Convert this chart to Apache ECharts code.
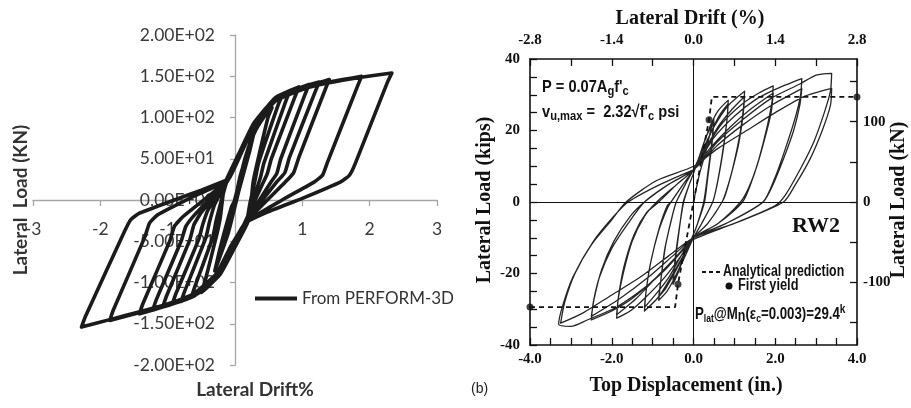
<!DOCTYPE html>
<html>
<head>
<meta charset="utf-8">
<script src="https://cdn.jsdelivr.net/npm/echarts@6/dist/echarts.min.js"></script>
<style>
  html, body { margin: 0; padding: 0; background: #fff; }
  #chart { width: 911px; height: 408px; }
</style>
</head>
<body>
<div id="chart"></div>
<script>
// ---------- Left panel: PERFORM-3D hysteresis, drift (%) vs load (kN) ----------
const leftDriftTicks = ['-3', '-2', '-1', '', '1', '2', '3'];
const leftLoadTicks = ['-2.00E+02', '-1.50E+02', '-1.00E+02', '-5.00E+01', '0.00E+00',
                       '5.00E+01', '1.00E+02', '1.50E+02', '2.00E+02'];

// early, nearly elastic cycles
const leftCycle0 = [[0,0],[0.1,35],[0.2,64],[0.12,38],[0,2],[-0.1,-33],[-0.2,-62],[-0.12,-36],[0,0],
  [0.14,48],[0.3,88],[0.22,60],[0.06,12],[-0.1,-40],[-0.3,-86],[-0.22,-58],[-0.05,-8],[0,0]];
const leftCycle1 = [[0.08,30],[0.28,80],[0.45,103],[0.55,112],[0.49,100],[0.33,45],[0.27,22],[0.2,-25],
  [-0.02,-60],[-0.22,-90],[-0.4,-105],[-0.5,-112],[-0.45,-100],[-0.28,-45],[-0.22,-22],[-0.15,20]];
const leftCycle2 = [[0.05,55],[0.27,92],[0.5,115],[0.7,127],[0.64,115],[0.35,45],[0.3,25],[0.22,-5],[0.17,-27],
  [-0.04,-58],[-0.24,-90],[-0.45,-108],[-0.65,-118],[-0.6,-106],[-0.33,-45],[-0.28,-25],[-0.2,0],[-0.12,23]];
const leftCycle3 = [[0.08,58],[0.3,93],[0.55,120],[0.82,133],[0.76,121],[0.43,45],[0.38,28],[0.3,8],[0.15,-29],
  [-0.05,-58],[-0.25,-90],[-0.5,-110],[-0.8,-123],[-0.75,-111],[-0.43,-45],[-0.38,-27],[-0.3,-5],[-0.1,25]];
const leftCycle4 = [[0.11,61],[0.32,94],[0.6,124],[0.95,137],[0.89,125],[0.54,50],[0.48,32],[0.4,18],[0.13,-30],
  [-0.07,-57],[-0.27,-89],[-0.55,-113],[-0.93,-126],[-0.88,-114],[-0.54,-48],[-0.48,-30],[-0.4,-12],[-0.08,27]];
const leftCycle5 = [[0.12,62],[0.33,95],[0.62,125],[0.9,134],[1.1,140],[1.04,128],[0.68,50],[0.62,32],[0.52,20],[0.16,-27],
  [-0.04,-57],[-0.24,-90],[-0.6,-115],[-0.9,-124],[-1.07,-129],[-1.02,-117],[-0.67,-48],[-0.61,-30],[-0.5,-15],[-0.11,24]];
const leftCycle6 = [[0.1,60],[0.3,93],[0.6,124],[1.0,137],[1.25,143],[1.19,131],[0.81,52],[0.74,33],[0.62,22],[0.14,-29],
  [-0.06,-58],[-0.26,-90],[-0.6,-116],[-1.0,-127],[-1.22,-133],[-1.17,-121],[-0.8,-50],[-0.73,-32],[-0.6,-18],[-0.09,26]];
const leftCycle7 = [[0.1,58],[0.3,92],[0.6,123],[1.0,136],[1.4,146],[1.34,134],[0.95,52],[0.87,33],[0.75,22],[0.15,-28],
  [-0.05,-58],[-0.25,-89],[-0.6,-116],[-1.0,-128],[-1.42,-138],[-1.37,-126],[-0.97,-50],[-0.9,-32],[-0.77,-20],[-0.1,25]];
const leftCycle8 = [[0.09,57],[0.29,90],[0.6,121],[1.0,135],[1.4,143],[1.88,150],[1.82,138],[1.37,45],[1.3,30],[1.18,22],[0.7,0],[0.16,-27],
  [-0.04,-56],[-0.24,-88],[-0.6,-114],[-1.0,-127],[-1.4,-136],[-1.86,-146],[-1.81,-134],[-1.34,-45],[-1.27,-28],[-1.15,-18],[-0.6,5],[-0.11,24]];
const leftCycle9 = [[0.08,56],[0.29,89],[0.6,120],[1.0,134],[1.4,142],[1.9,149],[2.33,154],[2.26,142],[1.79,45],[1.7,30],[1.57,22],[1.0,2],[0.5,-14],[0.15,-28],
  [-0.05,-56],[-0.25,-87],[-0.6,-113],[-1.0,-126],[-1.4,-135],[-1.86,-145],[-2.28,-154],[-2.22,-141],[-1.64,-38],[-1.55,-24],[-1.42,-16],[-1.0,-3],[-0.5,12],[-0.1,25]];

// ---------- Right panel: RW2 test, top displacement (in.) vs load (kips) ----------
const displacementTicks = ['-4.0', '-2.0', '0.0', '2.0', '4.0'];
const driftTicks = ['-2.8', '-1.4', '0.0', '1.4', '2.8'];
const kipsTicks = ['-40', '-20', '0', '20', '40'];
const kNTickValues = [-150, -100, -50, 0, 50, 100, 150];
const kNLabelValues = [-100, 0, 100];

const rightCycle1 = [[0,0],[0.15,8],[0.3,14],[0.42,20],[0.5,23.5],[0.45,17],[0.35,8],[0.25,0],[0.1,-6],[0,-9],
  [-0.2,-14],[-0.35,-19],[-0.5,-23],[-0.44,-16],[-0.34,-7],[-0.25,0],[-0.1,5],[0,8]];
const rightCycle2 = [[0.15,13],[0.3,18],[0.5,22.5],[0.45,16],[0.35,7],[0.27,0],[0.1,-6],[0,-9],
  [-0.2,-14],[-0.35,-18.5],[-0.5,-22],[-0.44,-15],[-0.33,-6],[-0.24,0],[-0.1,5],[0,8]];
const rightCycle3 = [[0.15,13],[0.4,21],[0.6,25.5],[0.85,28.5],[0.82,23],[0.72,14],[0.58,5],[0.47,0],[0.2,-6],[0,-10],
  [-0.2,-15],[-0.45,-21],[-0.65,-25],[-0.85,-27.5],[-0.8,-22],[-0.7,-13],[-0.52,-4],[-0.42,0],[-0.15,6],[0,9]];
const rightCycle4 = [[0.2,13],[0.45,20],[0.65,24.5],[0.85,27.5],[0.81,22],[0.7,13],[0.56,4],[0.47,0],[0.2,-6],[0,-10],
  [-0.22,-14.5],[-0.47,-20],[-0.67,-24],[-0.85,-26.5],[-0.79,-21],[-0.68,-12],[-0.5,-3],[-0.42,0],[-0.15,6],[0,9]];
const rightCycle5 = [[0.2,14],[0.5,21],[0.85,27],[1.25,31],[1.22,26],[1.12,18],[0.95,9],[0.8,3],[0.7,0],[0.35,-6],[0,-10],
  [-0.25,-15],[-0.55,-21],[-0.85,-26.5],[-1.2,-30.5],[-1.16,-25],[-1.05,-17],[-0.85,-8],[-0.65,-2],[-0.55,0],[-0.25,5],[0,9]];
const rightCycle6 = [[0.25,14],[0.6,21],[0.95,26],[1.25,29.5],[1.21,24],[1.1,16],[0.93,8],[0.78,2],[0.7,0],[0.35,-6],[0,-10],
  [-0.3,-15],[-0.6,-21],[-0.9,-25.5],[-1.2,-29.5],[-1.15,-24],[-1.03,-16],[-0.83,-7],[-0.64,-1],[-0.55,0],[-0.25,5],[0,9]];
const rightCycle7 = [[0.3,15],[0.7,22],[1.2,27.5],[1.6,30.5],[1.95,32.5],[1.92,28],[1.8,21],[1.6,12],[1.4,5],[1.2,0],[0.6,-6],[0,-10],
  [-0.3,-15],[-0.7,-21],[-1.2,-27],[-1.55,-30.5],[-1.88,-32.5],[-1.84,-27],[-1.72,-20],[-1.5,-11],[-1.2,-4],[-0.9,0],[-0.4,5],[0,9]];
const rightCycle8 = [[0.4,15],[0.9,21],[1.4,26],[1.95,30.5],[1.9,25],[1.75,18],[1.55,10],[1.35,4],[1.15,0],[0.6,-6],[0,-10],
  [-0.4,-15],[-0.9,-21],[-1.4,-27],[-1.88,-31.5],[-1.83,-26],[-1.7,-18],[-1.45,-9],[-1.15,-3],[-0.85,0],[-0.4,5],[0,9]];
const rightCycle9 = [[0.5,18],[1.0,24],[1.5,28.5],[2.0,31.5],[2.65,34.5],[2.62,30],[2.5,24],[2.25,15],[2.0,7],[1.7,0],[0.8,-6],[0,-10],
  [-0.4,-15],[-0.9,-21],[-1.5,-27],[-2.0,-30.5],[-2.5,-33],[-2.45,-28],[-2.3,-21],[-2.0,-13],[-1.6,-6],[-1.2,0],[-0.6,5],[0,9]];
const rightCycle10 = [[0.6,16],[1.2,21.5],[1.9,27],[2.65,31.7],[2.6,27],[2.45,20],[2.2,12],[1.95,5],[1.7,0],[0.8,-6],[0,-10],
  [-0.5,-15],[-1.1,-21],[-1.8,-27],[-2.5,-32],[-2.43,-27],[-2.25,-19],[-1.95,-11],[-1.55,-4],[-1.2,0],[-0.6,5],[0,9]];
const rightCycle11 = [[0.6,17],[1.2,23],[1.9,29],[2.6,33],[3.0,35.5],[3.38,36],[3.35,31],[3.2,25],[2.95,17],[2.65,10],[2.25,2],[2.0,-1],[1.0,-6],[0,-10.5],
  [-0.3,-14],[-0.7,-19],[-1.2,-24],[-1.9,-29.5],[-2.6,-33],[-3.0,-34.8],[-3.3,-34.2],[-3.2,-29],[-2.95,-21],[-2.5,-12],[-2.0,-5],[-1.65,0],[-0.9,6],[0,10]];
const rightCycle12 = [[0.6,15],[1.3,20],[2.0,25],[2.7,29.5],[3.38,31.8],[3.35,27],[3.15,20],[2.85,12],[2.5,5],[2.2,0],[1.0,-6],[0,-10],
  [-0.6,-15],[-1.3,-21],[-2.0,-26],[-2.7,-31],[-3.25,-33.9],[-3.15,-28],[-2.9,-20],[-2.45,-11],[-1.95,-4],[-1.6,0],[-0.8,5],[0,9]];

// Analytical prediction (dashed) and first-yield markers
const analyticalPath = [[-4.0,-29.4],[-0.45,-29.4],[-0.38,-23],[0,0],[0.38,23],[0.45,29.4],[4.0,29.4]];
const firstYieldPoints = [[0.38,23],[-0.38,-23]];
const predictionEnds = [[-4.0,-29.4],[4.0,29.4]];

const KIPS_TO_KN = 4.448;

const leftData = [leftCycle0, leftCycle1, leftCycle2, leftCycle3, leftCycle4, leftCycle5,
                  leftCycle6, leftCycle7, leftCycle8, leftCycle9].flat();
const rightData = [rightCycle1, rightCycle2, rightCycle3, rightCycle4, rightCycle5, rightCycle6,
                   rightCycle7, rightCycle8, rightCycle9, rightCycle10, rightCycle11, rightCycle12].flat();

// left plot area (axes cross at the origin)
const L_LEFT = 33, L_TOP = 35, L_W = 404, L_H = 330;

const near = (a, b) => Math.abs(a - b) < 1e-6;
const serif = 'Liberation Serif';
const frameAxisLabel = { fontFamily: serif, fontWeight: 'bold', fontSize: 15, color: '#111' };
const frameTick = { show: true, inside: true, length: 7, lineStyle: { color: '#111', width: 1.3 } };
const frameLine = { show: true, onZero: false, lineStyle: { color: '#111', width: 1.6 } };

const chart = echarts.init(document.getElementById('chart'), null, { renderer: 'canvas' });

chart.setOption({
  animation: false,
  backgroundColor: '#fff',
  grid: [
    { left: L_LEFT, top: L_TOP, width: L_W, height: L_H, outerBoundsMode: 'none', containLabel: false },
    { left: 530, top: 59, width: 327, height: 286, outerBoundsMode: 'none', containLabel: false }
  ],
  legend: {
    data: ['From PERFORM-3D'],
    left: 255, top: 290, padding: 0,
    icon: 'rect', itemWidth: 42, itemHeight: 4, itemGap: 5,
    textStyle: { fontFamily: 'Lato', fontSize: 17, color: '#333' }
  },
  xAxis: [
    {
      gridIndex: 0, type: 'value', min: -3, max: 3, interval: 1,
      position: 'bottom', offset: -L_H / 2,
      axisLine: { show: true, onZero: false, lineStyle: { color: '#a6a6a6', width: 1.3 } },
      axisTick: { show: true, length: 6, lineStyle: { color: '#a6a6a6', width: 1.3 } },
      splitLine: { show: false },
      axisLabel: {
        margin: 20, fontFamily: 'Lato', fontSize: 17.5, color: '#3a3a3a',
        formatter: v => leftDriftTicks[Math.round(v + 3)]
      }
    },
    {
      gridIndex: 1, type: 'value', position: 'bottom', min: -4, max: 4, interval: 0.5,
      axisLine: frameLine, axisTick: frameTick, splitLine: { show: false },
      axisLabel: Object.assign({ margin: 7, formatter: v => {
        const k = Math.round((v + 4) / 2);
        return near(v, -4 + 2 * k) ? displacementTicks[k] : '';
      } }, frameAxisLabel)
    },
    {
      gridIndex: 1, type: 'value', position: 'top', min: -2.8, max: 2.8, interval: 0.7,
      axisLine: frameLine, axisTick: frameTick, splitLine: { show: false },
      axisLabel: Object.assign({ margin: 11, formatter: v => {
        const k = Math.round((v + 2.8) / 1.4);
        return near(v, -2.8 + 1.4 * k) ? driftTicks[k] : '';
      } }, frameAxisLabel)
    }
  ],
  yAxis: [
    {
      gridIndex: 0, type: 'value', min: -200, max: 200, interval: 50,
      position: 'left', offset: -L_W / 2,
      axisLine: { show: true, onZero: false, lineStyle: { color: '#a6a6a6', width: 1.3 } },
      axisTick: { show: true, length: 5, lineStyle: { color: '#a6a6a6', width: 1.3 } },
      splitLine: { show: false },
      axisLabel: {
        margin: 20, fontFamily: 'Lato', fontSize: 17.5, color: '#3a3a3a',
        formatter: v => leftLoadTicks[Math.round((v + 200) / 50)]
      }
    },
    {
      gridIndex: 1, type: 'value', position: 'left', min: -40, max: 40, interval: 5,
      axisLine: frameLine, axisTick: frameTick, splitLine: { show: false },
      axisLabel: Object.assign({ margin: 10, formatter: v => {
        const k = Math.round((v + 40) / 20);
        return near(v, -40 + 20 * k) ? kipsTicks[k] : '';
      } }, frameAxisLabel)
    },
    {
      gridIndex: 1, type: 'value', position: 'right',
      min: -40 * KIPS_TO_KN, max: 40 * KIPS_TO_KN,
      axisLine: frameLine,
      axisTick: Object.assign({ customValues: kNTickValues }, frameTick),
      splitLine: { show: false },
      axisLabel: Object.assign({ margin: 6, customValues: kNLabelValues,
        formatter: v => String(Math.round(v)) }, frameAxisLabel)
    }
  ],
  graphic: [
    // left panel titles
    { type: 'text', x: 21, y: 200, rotation: Math.PI / 2,
      style: { text: 'Lateral  Load (KN)', fontFamily: 'Lato', fontWeight: 'bold', fontSize: 19,
               fill: '#333', align: 'center', verticalAlign: 'middle' } },
    { type: 'text', x: 255, y: 390,
      style: { text: 'Lateral Drift%', fontFamily: 'Lato', fontWeight: 'bold', fontSize: 19,
               fill: '#333', align: 'center', verticalAlign: 'middle' } },
    // right panel titles
    { type: 'text', x: 690, y: 19,
      style: { text: 'Lateral Drift (%)', fontFamily: serif, fontWeight: 'bold', fontSize: 20,
               fill: '#111', align: 'center', verticalAlign: 'middle' } },
    { type: 'text', x: 686, y: 386,
      style: { text: 'Top Displacement (in.)', fontFamily: serif, fontWeight: 'bold', fontSize: 20,
               fill: '#111', align: 'center', verticalAlign: 'middle' } },
    { type: 'text', x: 485, y: 200, rotation: Math.PI / 2,
      style: { text: 'Lateral Load (kips)', fontFamily: serif, fontWeight: 'bold', fontSize: 20,
               fill: '#111', align: 'center', verticalAlign: 'middle' } },
    { type: 'text', x: 899, y: 200, rotation: Math.PI / 2,
      style: { text: 'Lateral Load (kN)', fontFamily: serif, fontWeight: 'bold', fontSize: 20,
               fill: '#111', align: 'center', verticalAlign: 'middle' } },
    { type: 'text', x: 471, y: 389,
      style: { text: '(b)', fontFamily: 'Liberation Sans', fontSize: 14,
               fill: '#222', align: 'left', verticalAlign: 'middle' } },
    // specimen parameters
    { type: 'text', x: 542, y: 87, scaleX: 0.86,
      style: { text: "{m|P = 0.07A}{s|g}{m|f'}{s|c}", align: 'left', verticalAlign: 'middle', fill: '#111',
               rich: { m: { fontFamily: 'Liberation Sans', fontWeight: 'bold', fontSize: 17, fill: '#111' },
                       s: { fontFamily: 'Liberation Sans', fontWeight: 'bold', fontSize: 13, fill: '#111', padding: [9, 0, 0, 0] } } } },
    { type: 'text', x: 542, y: 112, scaleX: 0.86,
      style: { text: "{m|v}{s|u,max}{m| =  2.32√f'}{s|c}{m| psi}", align: 'left', verticalAlign: 'middle', fill: '#111',
               rich: { m: { fontFamily: 'Liberation Sans', fontWeight: 'bold', fontSize: 17, fill: '#111' },
                       s: { fontFamily: 'Liberation Sans', fontWeight: 'bold', fontSize: 13, fill: '#111', padding: [9, 0, 0, 0] } } } },
    { type: 'text', x: 840, y: 226,
      style: { text: 'RW2', fontFamily: serif, fontWeight: 'bold', fontSize: 22,
               fill: '#111', align: 'right', verticalAlign: 'middle' } },
    // key
    { type: 'line', shape: { x1: 702, y1: 272, x2: 720, y2: 272 },
      style: { stroke: '#111', lineWidth: 1.8, lineDash: [4, 3] } },
    { type: 'text', x: 723, y: 272, scaleX: 0.77,
      style: { text: 'Analytical prediction', fontFamily: 'Liberation Sans', fontWeight: 'bold', fontSize: 16,
               fill: '#111', align: 'left', verticalAlign: 'middle' } },
    { type: 'circle', shape: { cx: 729, cy: 286, r: 3.5 }, style: { fill: '#111' } },
    { type: 'text', x: 738, y: 286, scaleX: 0.8,
      style: { text: 'First yield', fontFamily: 'Liberation Sans', fontWeight: 'bold', fontSize: 16,
               fill: '#111', align: 'left', verticalAlign: 'middle' } },
    { type: 'text', x: 695, y: 314, scaleX: 0.78,
      style: { text: '{m|P}{s|lat}{m|@M}{n|n}{m|(ε}{s|c}{m|=0.003)=29.4}{k|k}', align: 'left', verticalAlign: 'middle', fill: '#111',
               rich: { m: { fontFamily: 'Liberation Sans', fontWeight: 'bold', fontSize: 17, fill: '#111' },
                       s: { fontFamily: 'Liberation Sans', fontWeight: 'bold', fontSize: 11, fill: '#111', padding: [9, 0, 0, 0] },
                       n: { fontFamily: 'Liberation Sans', fontWeight: 'bold', fontSize: 16, fill: '#111', padding: [6, 0, 0, 0] },
                       k: { fontFamily: 'Liberation Sans', fontWeight: 'bold', fontSize: 13, fill: '#111', padding: [0, 0, 9, 0] } } } }
  ],
  series: [
    {
      name: 'From PERFORM-3D', type: 'line', xAxisIndex: 0, yAxisIndex: 0,
      data: leftData, showSymbol: false, symbol: 'none', clip: true, smooth: 0.15,
      lineStyle: { color: '#1b1b1b', width: 3.6, join: 'round', cap: 'round' },
      itemStyle: { color: '#1b1b1b' }, z: 3
    },
    {
      name: 'RW2 test', type: 'line', xAxisIndex: 1, yAxisIndex: 1,
      data: rightData, showSymbol: false, symbol: 'none', smooth: 0.25,
      lineStyle: { color: '#262626', width: 1.3, join: 'round' },
      markLine: {
        silent: true, symbol: ['none', 'none'], label: { show: false },
        lineStyle: { color: '#111', width: 1, type: 'solid' },
        data: [{ yAxis: 0 }, { xAxis: 0 }]
      }
    },
    {
      name: 'Analytical prediction', type: 'line', xAxisIndex: 1, yAxisIndex: 1,
      data: analyticalPath, showSymbol: false, symbol: 'none',
      lineStyle: { color: '#111', width: 1.8, type: [5, 4] }
    },
    {
      name: 'First yield', type: 'scatter', xAxisIndex: 1, yAxisIndex: 1,
      data: firstYieldPoints, symbolSize: 7, itemStyle: { color: '#111' }
    },
    {
      name: 'Prediction limit', type: 'scatter', xAxisIndex: 1, yAxisIndex: 1,
      data: predictionEnds, symbolSize: 7, itemStyle: { color: '#111' }
    }
  ]
});
</script>
</body>
</html>
